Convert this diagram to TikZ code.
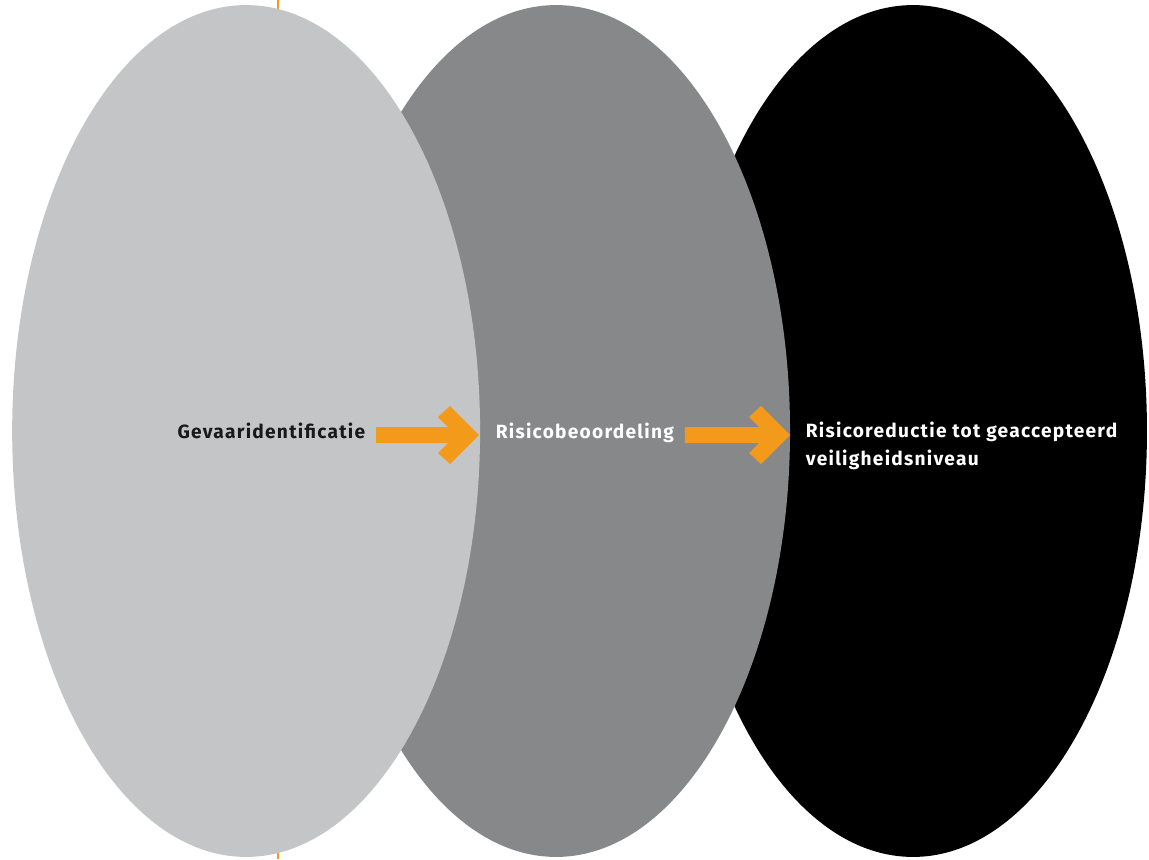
\documentclass[tikz,border=0pt]{standalone}
\usepackage{fontspec}
\setmainfont{Fira Sans}
\usetikzlibrary{shapes,calc,positioning}
\definecolor{lightgrey}{HTML}{C4C5C7}
\definecolor{midgrey}{HTML}{87888A}
\definecolor{arroworange}{HTML}{F39A1A}
\tikzset{
    phase/.style = {ellipse, inner sep=0pt,
        minimum width=9.36cm, minimum height=17.04cm},
    phasetext/.style = {inner xsep=6pt, inner ysep=0pt, align=left,
        font=\fontsize{10.9pt}{15.4pt}\selectfont\bfseries\addfontfeatures{LetterSpace=6.5}},
    arrowfill/.style = {fill=arroworange, draw=none}
}
\newcommand{\bigarrow}[2]{%
    \fill[arrowfill] ($(#1 |- #2)+(0,-8)$) -- ($(#2)+(-31,-8)$) -- ($(#2)+(-41,-18)$)
        -- ($(#2)+(-29,-29)$) -- (#2) -- ($(#2)+(-29,29)$) -- ($(#2)+(-41,18)$)
        -- ($(#2)+(-31,8)$) -- ($(#1 |- #2)+(0,8)$) -- cycle;}

\begin{document}
\begin{tikzpicture}[x=0.02cm, y=-0.02cm]
        \useasboundingbox (0,0) rectangle (1149,859);
        \coordinate (guidetop) at (278,0);
        \coordinate (guidebot) at (278,859);
        \draw [arroworange, line width=0.8pt] (guidetop) -- (guidebot);
        \node [phase, fill=black] (reduce) at (913,431) {};
        \node [phase, fill=midgrey, left of=reduce, node distance=7.14cm] (assess) {};
        \node [phase, fill=lightgrey, left of=assess, node distance=6.2cm] (ident) {};
        \node [phasetext, anchor=base east, text=black!90] (gev) at (376,438) {Gevaaridentificatie};
        \node [phasetext, anchor=base west, text=white] (ris) at (485,438) {Risicobeoordeling};
        \node [phasetext, anchor=base west, text=white] (red) at (795,465)
            {Risicoreductie tot geaccepteerd\\veiligheidsniveau};
        \coordinate (tipA) at (479,435);
        \coordinate (tipB) at (790,435);
        \bigarrow{gev.east}{tipA}
        \bigarrow{ris.east}{tipB}
\end{tikzpicture}
\end{document}
